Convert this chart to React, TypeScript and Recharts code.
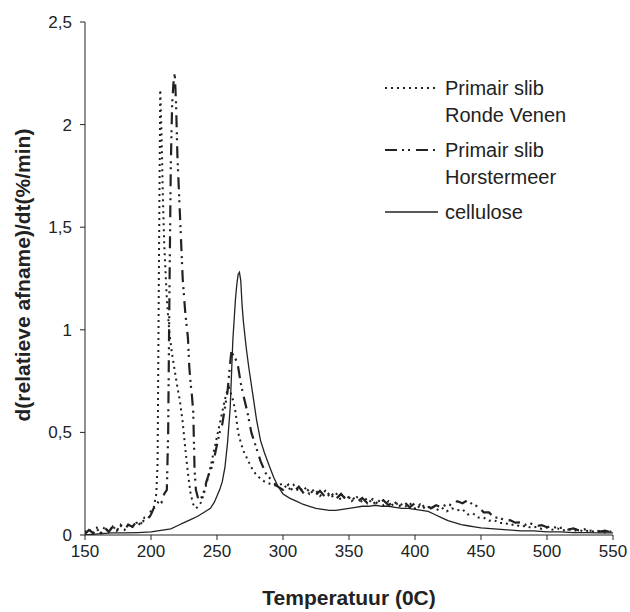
import React from 'react';
import { LineChart, Line, XAxis, YAxis, Legend, Label } from 'recharts';

// temperature (°C) and d(relative loss)/dt values
const rondeT = [150, 153, 156, 159, 162, 165, 168, 171, 174, 177, 180, 183, 186, 189, 192, 195, 198, 200, 202, 204, 205, 206, 207, 208, 209, 210, 212, 214, 216, 218, 220, 222, 224, 226, 228, 230, 232, 234, 236, 238, 240, 242, 244, 246, 248, 250, 252, 254, 256, 258, 259, 260, 262, 264, 266, 268, 270, 273, 276, 279, 282, 286, 290, 295,
  300, 304, 308, 312, 316, 320, 324, 328, 332, 336, 340, 344, 348, 352, 356, 360, 364, 368, 372, 376, 380, 384, 388, 392, 396, 400, 404, 408, 412, 416, 420, 424, 428, 432, 436, 440, 444, 448, 452, 456, 460, 464, 468, 472, 476, 480, 484, 488, 492, 496, 500, 504, 508, 512, 516, 520, 524, 528, 532, 536, 540, 544, 548, 550];
const rondeV = [0.015, 0.03, 0.005, 0.035, 0.01, 0.04, 0.015, 0.045, 0.02, 0.05, 0.025, 0.055, 0.04, 0.06, 0.05, 0.085, 0.08, 0.12, 0.13, 0.2, 0.35, 1.3, 2.17, 1.95, 1.65, 1.42, 1.15, 0.98, 0.88, 0.8, 0.72, 0.65, 0.55, 0.42, 0.3, 0.2, 0.15, 0.13, 0.14, 0.16, 0.2, 0.25, 0.3, 0.36, 0.42, 0.48, 0.54, 0.6, 0.66, 0.71, 0.72, 0.7, 0.66, 0.6, 0.5, 0.45, 0.41, 0.37, 0.33, 0.3, 0.28, 0.26, 0.25, 0.24,
  0.25, 0.22, 0.245, 0.21, 0.235, 0.2, 0.225, 0.19, 0.215, 0.18, 0.205, 0.17, 0.195, 0.165, 0.185, 0.16, 0.18, 0.15, 0.17, 0.145, 0.165, 0.14, 0.16, 0.135, 0.155, 0.13, 0.15, 0.125, 0.145, 0.12, 0.135, 0.115, 0.13, 0.12, 0.125, 0.1, 0.105, 0.085, 0.085, 0.07, 0.072, 0.058, 0.06, 0.048, 0.052, 0.04, 0.045, 0.035, 0.04, 0.03, 0.036, 0.026, 0.032, 0.022, 0.028, 0.02, 0.025, 0.017, 0.022, 0.015, 0.02, 0.012, 0.017, 0.012];

const horstT = [150, 153, 156, 159, 162, 165, 168, 171, 174, 177, 180, 183, 186, 189, 192, 195, 198, 200, 202, 204, 206, 208, 210, 212, 213, 214, 215, 216, 217, 218, 219, 220, 222, 224, 226, 228, 229, 230, 231, 232, 233, 234, 236, 238, 240, 242, 244, 246, 248, 250, 252, 254, 256, 258, 260, 261, 262, 264, 266, 268, 270, 273, 276, 279, 283, 287, 291, 295,
  300, 304, 308, 312, 316, 320, 324, 328, 332, 336, 340, 344, 348, 352, 356, 360, 364, 368, 372, 376, 380, 384, 388, 392, 396, 400, 404, 408, 412, 416, 420, 424, 428, 432, 436, 440, 444, 448, 452, 456, 460, 464, 468, 472, 476, 480, 484, 488, 492, 496, 500, 504, 508, 512, 516, 520, 524, 528, 532, 536, 540, 544, 548, 550];
const horstV = [0.005, 0.025, 0.01, 0.03, 0.005, 0.035, 0.015, 0.04, 0.02, 0.045, 0.03, 0.05, 0.04, 0.065, 0.05, 0.075, 0.08, 0.1, 0.13, 0.14, 0.17, 0.16, 0.2, 0.22, 0.5, 1.2, 1.8, 2.1, 2.2, 2.25, 2.1, 1.85, 1.55, 1.25, 1.08, 0.96, 0.82, 0.74, 0.68, 0.6, 0.32, 0.22, 0.17, 0.18, 0.21, 0.26, 0.3, 0.33, 0.38, 0.44, 0.5, 0.54, 0.62, 0.7, 0.84, 0.9, 0.88, 0.86, 0.82, 0.74, 0.68, 0.6, 0.5, 0.44, 0.36, 0.3, 0.27, 0.24,
  0.22, 0.245, 0.21, 0.235, 0.2, 0.225, 0.19, 0.215, 0.185, 0.21, 0.175, 0.2, 0.17, 0.19, 0.16, 0.18, 0.155, 0.175, 0.15, 0.17, 0.145, 0.165, 0.14, 0.16, 0.135, 0.155, 0.13, 0.15, 0.13, 0.145, 0.135, 0.15, 0.145, 0.165, 0.155, 0.17, 0.145, 0.14, 0.11, 0.11, 0.085, 0.085, 0.07, 0.072, 0.06, 0.062, 0.05, 0.055, 0.043, 0.048, 0.038, 0.042, 0.032, 0.037, 0.027, 0.032, 0.023, 0.028, 0.02, 0.024, 0.017, 0.021, 0.014, 0.016];

const celluT = [150, 160, 170, 180, 190, 200, 205, 210, 215, 220, 225, 230, 235, 240, 245, 248, 250, 252, 254, 256, 258, 260, 262, 264, 265, 266, 267, 268, 269, 270, 272, 274, 277, 280, 283, 286, 290, 293, 296, 300, 305, 310, 315, 320, 325, 330, 335, 340, 345, 350, 355, 360, 365, 370, 375, 380, 385, 390, 395, 400, 405, 410, 415, 420, 425, 430, 435, 440, 445, 450, 460, 470, 480, 490, 500, 510, 520, 530, 540, 550];
const celluV = [0.0, 0.005, 0.01, 0.01, 0.012, 0.015, 0.02, 0.025, 0.03, 0.045, 0.06, 0.075, 0.09, 0.11, 0.13, 0.16, 0.19, 0.22, 0.26, 0.33, 0.45, 0.62, 0.95, 1.15, 1.22, 1.27, 1.28, 1.24, 1.12, 1.04, 0.92, 0.82, 0.69, 0.56, 0.46, 0.4, 0.33, 0.28, 0.24, 0.2, 0.18, 0.165, 0.15, 0.14, 0.13, 0.125, 0.12, 0.12, 0.125, 0.13, 0.135, 0.14, 0.14, 0.145, 0.14, 0.14, 0.135, 0.13, 0.13, 0.125, 0.12, 0.115, 0.1, 0.085, 0.07, 0.06, 0.05, 0.045, 0.04, 0.035, 0.03, 0.025, 0.02, 0.02, 0.015, 0.015, 0.012, 0.012, 0.01, 0.01];

const xTicks = [150, 200, 250, 300, 350, 400, 450, 500, 550];
const yTicks = [0, 0.5, 1, 1.5, 2, 2.5];

const toRows = (ts: number[], vs: number[]) => ts.map((t, i) => ({ t, v: vs[i] }));

const ink = '#222';
const font = 'Arial, "Liberation Sans", sans-serif';
const dotted = '2 4';
const dashDot = '12 5 2 4 2 6';

const legendItems = [
  { lines: ['Primair slib', 'Ronde Venen'], dash: dotted, width: 2 },
  { lines: ['Primair slib', 'Horstermeer'], dash: dashDot, width: 2 },
  { lines: ['cellulose'], dash: undefined, width: 1.4 },
];

const LegendBox = () => {
  let y = 0;
  return (
    <svg width={240} height={170} style={{ fontFamily: font }}>
      {legendItems.map((it, i) => {
        const top = y;
        y += it.lines.length * 27 + 8;
        return (
          <g key={i}>
            <line x1={5} x2={58} y1={top + 13} y2={top + 13} stroke={ink} strokeWidth={it.width} strokeDasharray={it.dash} />
            {it.lines.map((s, j) => (
              <text key={j} x={65} y={top + 13 + j * 27} dominantBaseline="central" fontSize={20} fill={ink}>{s}</text>
            ))}
          </g>
        );
      })}
    </svg>
  );
};

export default function App() {
  return (
    <div style={{ position: 'absolute', left: 0, top: 0, width: 630, height: 612, background: '#fff' }}>
      <LineChart width={630} height={612} margin={{ top: 22, right: 17, left: 0, bottom: 7 }}>
        <XAxis
          type="number"
          dataKey="t"
          domain={[150, 550]}
          ticks={xTicks}
          height={70}
          tickSize={5}
          tickMargin={5}
          allowDataOverflow
          axisLine={{ stroke: ink }}
          tickLine={{ stroke: ink }}
          tick={{ fill: ink, fontSize: 17, fontFamily: font }}
        >
          <Label value="Temperatuur (0C)" position="insideBottom" offset={0} fill={ink} fontSize={21} fontWeight="bold" fontFamily={font} />
        </XAxis>
        <YAxis
          type="number"
          domain={[0, 2.5]}
          ticks={yTicks}
          width={85}
          tickSize={5}
          tickMargin={8}
          allowDataOverflow
          tickFormatter={(v) => String(v).replace('.', ',')}
          axisLine={{ stroke: ink }}
          tickLine={{ stroke: ink }}
          tick={{ fill: ink, fontSize: 17, fontFamily: font }}
        >
          <Label
            content={() => (
              <text x={22} y={275} transform="rotate(-90 22 275)" textAnchor="middle" dominantBaseline="central" fill={ink} fontSize={21} fontWeight="bold" fontFamily={font}>
                d(relatieve afname)/dt(%/min)
              </text>
            )}
          />
        </YAxis>
        <Legend layout="horizontal" verticalAlign="middle" align="center" content={() => <LegendBox />} wrapperStyle={{ left: 380, top: 75, width: 240, height: 170 }} />
        <Line data={toRows(celluT, celluV)} dataKey="v" name="cellulose" stroke={ink} strokeWidth={1.3} dot={false} type="linear" isAnimationActive={false} />
        <Line data={toRows(horstT, horstV)} dataKey="v" name="Primair slib Horstermeer" stroke={ink} strokeWidth={2.2} strokeDasharray={dashDot} dot={false} type="linear" isAnimationActive={false} />
        <Line data={toRows(rondeT, rondeV)} dataKey="v" name="Primair slib Ronde Venen" stroke={ink} strokeWidth={2} strokeDasharray={dotted} dot={false} type="linear" isAnimationActive={false} />
      </LineChart>
    </div>
  );
}
